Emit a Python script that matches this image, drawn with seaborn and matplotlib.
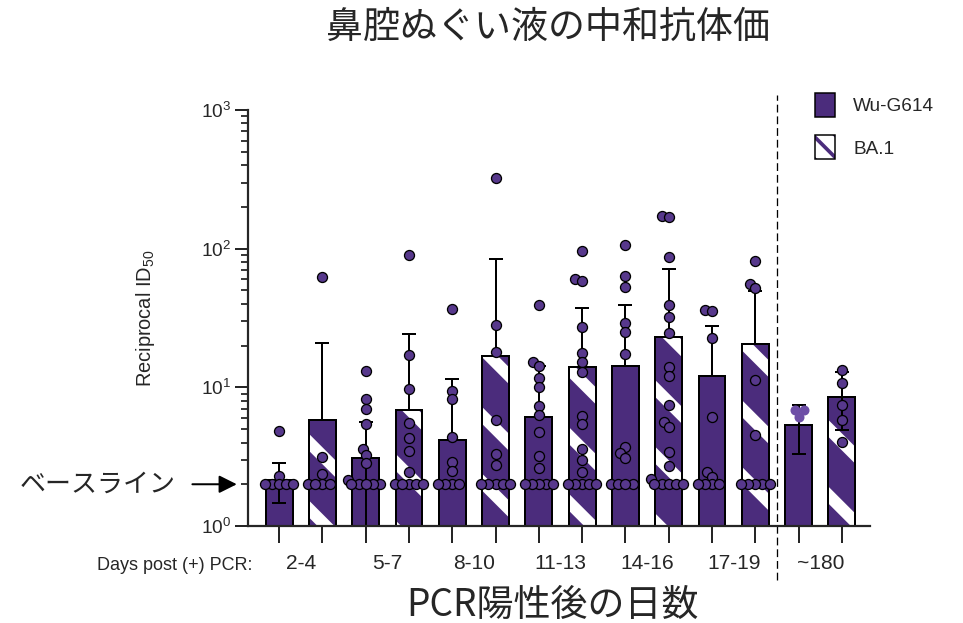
import numpy as np
import pandas as pd
import matplotlib
matplotlib.use("Agg")
import matplotlib.pyplot as plt
import matplotlib.patches as mpatches
from matplotlib.ticker import LogLocator, NullFormatter
import seaborn as sns

# Datos
groups = ["2-4", "5-7", "8-10", "11-13", "14-16", "17-19", "~180"]
variants = ["Wu-G614", "BA.1"]

# altura de barras (media geométrica) y extremos de las barras de error
bar_heights = [2.15, 5.8, 3.1, 6.9, 4.2, 16.8, 6.1, 14.1, 14.3, 23.2, 12.1, 20.5, 5.35, 8.55]
err_top = [2.86, 21.0, 5.6, 24.2, 11.5, 83.7, 14.3, 37.5, 39.2, 70.9, 27.7, 49.7, 7.45, 12.8]
err_bottom = [1.46, np.nan, 0.8, np.nan, np.nan, np.nan, np.nan, np.nan, np.nan, np.nan,
              np.nan, np.nan, 3.3, 4.9]

# puntos individuales por barra
wu_2_4 = [4.87, 2.29, 2, 2, 2, 2, 2]
ba_2_4 = [62, 3.16, 2.36, 2, 2, 2, 2]
wu_5_7 = [13.2, 8.3, 7.0, 5.4, 3.6, 3.25, 2.85, 2.15, 2, 2, 2, 2, 2]
ba_5_7 = [90, 17.2, 9.8, 5.5, 4.3, 3.5, 2.47, 2, 2, 2, 2, 2]
wu_8_10 = [37, 9.4, 8.2, 4.4, 2.9, 2.5, 2, 2, 2, 2]
ba_8_10 = [321, 28, 18, 5.8, 3.3, 2.75, 2, 2, 2, 2, 2]
wu_11_13 = [39, 15.3, 14.3, 11.6, 10.1, 7.3, 6.3, 4.8, 3.2, 2.6, 2, 2, 2, 2, 2]
ba_11_13 = [96, 60, 58, 27.4, 17.8, 15.3, 13, 6.2, 5.4, 3.6, 3.0, 2.46, 2, 2, 2, 2, 2]
wu_14_16 = [106, 63.5, 52.6, 28.9, 25.2, 17.4, 3.7, 3.35, 3.1, 2, 2, 2, 2]
ba_14_16 = [172, 168, 87, 39, 32, 24.5, 14.1, 12.1, 7.4, 5.65, 5.2, 3.4, 2.7, 2.2, 2, 2, 2, 2, 2]
wu_17_19 = [36, 35.5, 22.6, 6.1, 2.46, 2.27, 2, 2, 2, 2]
ba_17_19 = [82, 55.6, 51.9, 11.3, 4.5, 2, 2, 2, 2, 2]
wu_180 = [6.9, 6.9, 6.1]
ba_180 = [13.3, 10.7, 7.45, 5.8, 4.05]

bar_labels = [f"{g} {v}" for g in groups for v in variants]
point_lists = [wu_2_4, ba_2_4, wu_5_7, ba_5_7, wu_8_10, ba_8_10, wu_11_13, ba_11_13,
               wu_14_16, ba_14_16, wu_17_19, ba_17_19, wu_180, ba_180]

bars_df = pd.DataFrame({"bar": bar_labels, "height": bar_heights})
pts_df = pd.DataFrame({
    "bar": np.repeat(bar_labels, [len(p) for p in point_lists]),
    "value": np.concatenate(point_lists),
})
pts_main = pts_df[pts_df["bar"] != "~180 Wu-G614"]
pts_180 = pts_df[pts_df["bar"] == "~180 Wu-G614"]

bar_color = "#4b2c7c"
dot_color = "#57388c"
dot_light = "#6d4ea6"

DPI = 200
PX = 72 / DPI  # puntos por pixel

sns.set_style("ticks")
plt.rcParams["font.family"] = ["Liberation Sans", "Noto Sans CJK JP"]
plt.rcParams["mathtext.fontset"] = "custom"
plt.rcParams["mathtext.rm"] = "Liberation Sans"
plt.rcParams["mathtext.it"] = "Liberation Sans:italic"
plt.rcParams["hatch.linewidth"] = 12 * PX
jp = ["Noto Sans CJK JP", "DejaVu Sans"]

fig = plt.figure(figsize=(963 / DPI, 623 / DPI), dpi=DPI)
ax = fig.add_axes([248 / 963, 1 - 526 / 623, 622 / 963, 416 / 623])
ax.set_yscale("log")  # nonpositive='clip' para que las barras desde 0 se dibujen

# Barras
sns.barplot(data=bars_df, x="bar", y="height", order=bar_labels, color=bar_color,
            saturation=1, width=0.62, errorbar=None, linewidth=0, ax=ax, zorder=1)
for i, p in enumerate(ax.patches):
    if i % 2 == 1:
        p.set_hatch("\\")
        p.set_edgecolor("white")
        p.set_linewidth(0)

# Contorno negro
sns.barplot(data=bars_df, x="bar", y="height", order=bar_labels, fill=False,
            color="black", edgecolor="black", width=0.62, errorbar=None,
            linewidth=2 * PX, ax=ax, zorder=1.5)

# Barras de error
h = np.array(bar_heights)
top = np.array(err_top)
bot = np.array(err_bottom)
lower = np.where(np.isnan(bot), 0, h - bot)
ax.errorbar(np.arange(len(h)), h, yerr=[lower, top - h], fmt="none", ecolor="black",
            elinewidth=2 * PX, capsize=7 * PX, capthick=2 * PX, zorder=2)

# Puntos
sns.swarmplot(data=pts_main, x="bar", y="value", order=bar_labels, color=dot_color,
              edgecolor="black", linewidth=1.3 * PX, size=5.5 * PX, ax=ax, zorder=3)
sns.swarmplot(data=pts_180, x="bar", y="value", order=bar_labels, color=dot_light,
              linewidth=0, size=8 * PX, ax=ax, zorder=3)

ax.set_ylim(1, 1000)
ax.set_xlim(-0.72, 13.65)

# calcular el enjambre y luego agrandar los marcadores
fig.canvas.draw()
for c in ax.collections:
    if "draw" in c.__dict__:
        del c.draw
        c.set_sizes([(10 * PX) ** 2])

# Ejes
ax.set_xlabel("")
ax.set_ylabel("Reciprocal ID$_\\mathregular{50}$", fontsize=20 * PX)
ax.yaxis.set_label_coords((157 - 248) / 622, 0.5)
ax.set_xticks(range(len(bar_labels)))
ax.set_xticklabels([""] * len(bar_labels))
ax.set_xticks(np.arange(0.5, len(bar_labels), 2), labels=groups, minor=True)
ax.tick_params(axis="x", which="major", length=17 * PX, width=2 * PX)
ax.tick_params(axis="x", which="minor", length=0, pad=28 * PX, labelsize=21 * PX)
ax.yaxis.set_major_locator(LogLocator(base=10))
ax.yaxis.set_minor_locator(LogLocator(base=10, subs=np.arange(2, 10)))
ax.yaxis.set_minor_formatter(NullFormatter())
ax.tick_params(axis="y", which="major", length=13 * PX, width=2 * PX,
               labelsize=19 * PX, pad=4 * PX)
ax.tick_params(axis="y", which="minor", length=7 * PX, width=1.8 * PX)
sns.despine(ax=ax)
for s in ["left", "bottom"]:
    ax.spines[s].set_linewidth(2.2 * PX)

# Línea discontinua
ax.axvline(11.5, ymin=-0.13, ymax=1.036, clip_on=False, color="black",
           lw=1.3 * PX, ls=(0, (6, 3)))

# Línea base
ax.annotate("ベースライン", xy=(-0.018, 2), xycoords=("axes fraction", "data"),
            xytext=(-0.117, 2), textcoords=("axes fraction", "data"),
            ha="right", va="center", fontsize=26 * PX, family=jp,
            arrowprops=dict(arrowstyle="-|>,head_length=0.4,head_width=0.2",
                            mutation_scale=13.5, lw=2 * PX, color="black",
                            shrinkA=4, shrinkB=0))

# Leyenda
hatched = (mpatches.Patch(facecolor=bar_color, edgecolor="white", hatch="\\\\\\", lw=0),
           mpatches.Patch(fill=False, edgecolor="black", lw=1.5 * PX))
solid = mpatches.Patch(facecolor=bar_color, edgecolor="black", lw=1.5 * PX)
ax.legend([solid, hatched], variants, loc="upper left",
          bbox_to_anchor=(815 / 963, 1 - 93 / 623), bbox_transform=fig.transFigure,
          borderaxespad=0, borderpad=0, frameon=False, fontsize=19 * PX,
          handlelength=1.05, handleheight=1.58, handletextpad=0.95, labelspacing=0.95)

# Textos
fig.text(252 / 963, 1 - 565 / 623, "Days post (+) PCR:", ha="right", va="center",
         fontsize=18 * PX)
fig.text(548 / 963, 1 - 27 / 623, "鼻腔ぬぐい液の中和抗体価", ha="center", va="center",
         fontsize=37 * PX, family=jp)
fig.text(552 / 963, 1 - 605 / 623, "PCR陽性後の日数", ha="center", va="center",
         fontsize=37 * PX, family=jp)

plt.savefig("out.png", dpi=DPI)
